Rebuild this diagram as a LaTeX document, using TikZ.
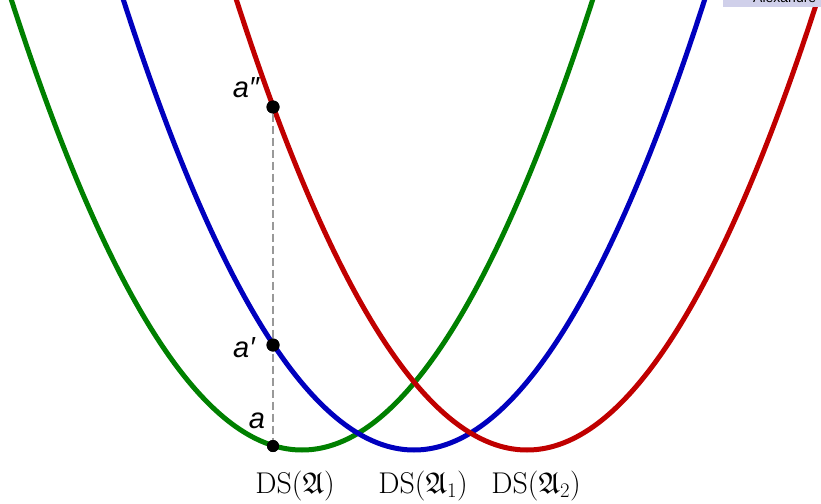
\documentclass[tikz,border=0pt]{standalone}
\usepackage{amssymb}
\usepackage{fontspec}
\newfontfamily\arialish{Liberation Sans}
\definecolor{cgreen}{RGB}{0,128,0}
\definecolor{cblue}{RGB}{0,0,190}
\definecolor{cred}{RGB}{192,0,0}
\definecolor{lav}{RGB}{208,208,234}
\begin{document}
\begin{tikzpicture}[x=1pt,y=-1pt,
  curve/.style={line width=5pt},
  dot/.style={circle,fill=black,inner sep=0pt,minimum size=13pt},
  ptlabel/.style={font=\arialish\itshape\fontsize{29}{31}\selectfont,inner sep=0pt},
  dslabel/.style={font=\fontsize{30}{32}\selectfont,inner sep=0pt,anchor=base},
  guide/.style={gray!80,line width=2.5pt,dash pattern=on 8pt off 4pt}]
\useasboundingbox (0,0) rectangle (821,503);
\begin{scope}
\clip (0,0) rectangle (821,503);
\draw[curve,cgreen] plot[domain=-2.95:2.95,samples=120,smooth] ({302+100*\x},{450-53.3*\x*\x});
\draw[curve,cblue] plot[domain=-2.95:2.95,samples=120,smooth] ({414+100*\x},{450-53.3*\x*\x});
\draw[curve,cred] plot[domain=-2.95:2.95,samples=120,smooth] ({527+100*\x},{450-53.3*\x*\x});
% top-right banner
\fill[lav] (723,-10) rectangle (821,7);
\node[font=\arialish\fontsize{14}{16}\selectfont,anchor=base west,inner sep=0pt] (author) at (753,3) {Alexandre};
\end{scope}
\node[dot] (a2) at (273,107) {};
\node[dot] (a1) at (273,345) {};
\node[dot,minimum size=12pt] (a0) at (273,446) {};
\draw[guide] (a2) -- (a0);
\node[dot] at (273,107) {};
\node[dot] at (273,345) {};
\node[dot,minimum size=12pt] at (273,446) {};
\node[ptlabel] (la2) at (246,88) {a″};
\node[ptlabel] (la1) at (244,348) {a′};
\node[ptlabel] (la0) at (257,421) {a};
\node[dslabel] (ds0) at (295,493) {DS($\mathfrak{A}$)};
\node[dslabel] (ds1) at (423,493) {DS($\mathfrak{A}_1$)};
\node[dslabel] (ds2) at (536,493) {DS($\mathfrak{A}_2$)};
\end{tikzpicture}
\end{document}
